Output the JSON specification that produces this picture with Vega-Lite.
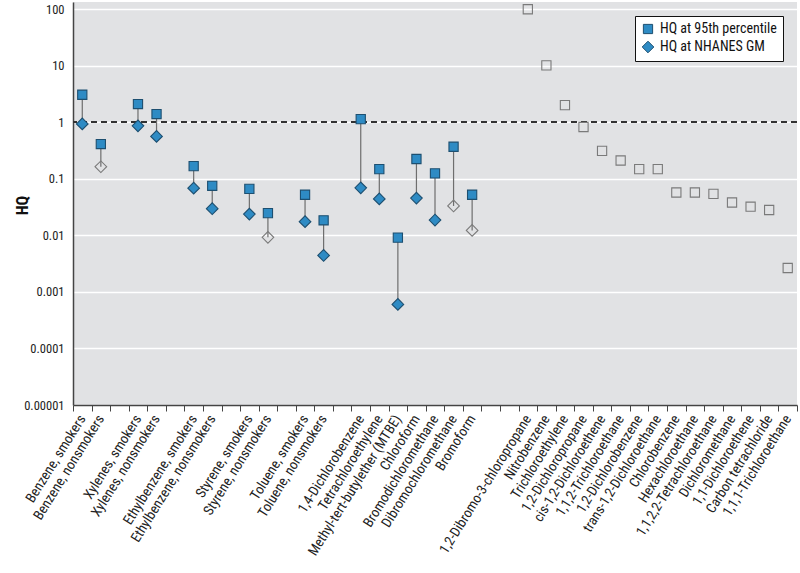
{
  "$schema": "https://vega.github.io/schema/vega-lite/v6.json",
  "autosize": "none",
  "width": 724,
  "height": 403,
  "padding": {"left": 73, "top": 2, "right": 3, "bottom": 168},
  "background": "white",
  "config": {
    "view": {"fill": "#e1e2e4", "stroke": null},
    "font": "Liberation Sans Narrow, Roboto Condensed, Liberation Sans, sans-serif",
    "axis": {"labelFont": "Liberation Sans Narrow, Roboto Condensed, Liberation Sans, sans-serif", "labelColor": "#222", "domainColor": "#444", "tickColor": "#444"},
    "legend": {"labelFont": "Liberation Sans Narrow, Roboto Condensed, Liberation Sans, sans-serif"}
  },
  "data": {"values": [
    {"c": "Benzene, smokers", "s": "HQ at 95th percentile", "v": 3.05, "open": false},
    {"c": "Benzene, smokers", "s": "HQ at NHANES GM", "v": 0.93, "open": false},
    {"c": "Benzene, nonsmokers", "s": "HQ at 95th percentile", "v": 0.41, "open": false},
    {"c": "Benzene, nonsmokers", "s": "HQ at NHANES GM", "v": 0.163, "open": true},
    {"c": "Xylenes, smokers", "s": "HQ at 95th percentile", "v": 2.09, "open": false},
    {"c": "Xylenes, smokers", "s": "HQ at NHANES GM", "v": 0.86, "open": false},
    {"c": "Xylenes, nonsmokers", "s": "HQ at 95th percentile", "v": 1.39, "open": false},
    {"c": "Xylenes, nonsmokers", "s": "HQ at NHANES GM", "v": 0.56, "open": false},
    {"c": "Ethylbenzene, smokers", "s": "HQ at 95th percentile", "v": 0.167, "open": false},
    {"c": "Ethylbenzene, smokers", "s": "HQ at NHANES GM", "v": 0.068, "open": false},
    {"c": "Ethylbenzene, nonsmokers", "s": "HQ at 95th percentile", "v": 0.075, "open": false},
    {"c": "Ethylbenzene, nonsmokers", "s": "HQ at NHANES GM", "v": 0.0295, "open": false},
    {"c": "Styrene, smokers", "s": "HQ at 95th percentile", "v": 0.066, "open": false},
    {"c": "Styrene, smokers", "s": "HQ at NHANES GM", "v": 0.0237, "open": false},
    {"c": "Styrene, nonsmokers", "s": "HQ at 95th percentile", "v": 0.0247, "open": false},
    {"c": "Styrene, nonsmokers", "s": "HQ at NHANES GM", "v": 0.0092, "open": true},
    {"c": "Toluene, smokers", "s": "HQ at 95th percentile", "v": 0.052, "open": false},
    {"c": "Toluene, smokers", "s": "HQ at NHANES GM", "v": 0.0174, "open": false},
    {"c": "Toluene, nonsmokers", "s": "HQ at 95th percentile", "v": 0.0184, "open": false},
    {"c": "Toluene, nonsmokers", "s": "HQ at NHANES GM", "v": 0.0044, "open": false},
    {"c": "1,4-Dichlorobenzene", "s": "HQ at 95th percentile", "v": 1.13, "open": false},
    {"c": "1,4-Dichlorobenzene", "s": "HQ at NHANES GM", "v": 0.069, "open": false},
    {"c": "Tetrachloroethylene", "s": "HQ at 95th percentile", "v": 0.148, "open": false},
    {"c": "Tetrachloroethylene", "s": "HQ at NHANES GM", "v": 0.044, "open": false},
    {"c": "Methyl-tert-butylether (MTBE)", "s": "HQ at 95th percentile", "v": 0.0091, "open": false},
    {"c": "Methyl-tert-butylether (MTBE)", "s": "HQ at NHANES GM", "v": 0.0006, "open": false},
    {"c": "Chloroform", "s": "HQ at 95th percentile", "v": 0.223, "open": false},
    {"c": "Chloroform", "s": "HQ at NHANES GM", "v": 0.0455, "open": false},
    {"c": "Bromodichloromethane", "s": "HQ at 95th percentile", "v": 0.124, "open": false},
    {"c": "Bromodichloromethane", "s": "HQ at NHANES GM", "v": 0.0186, "open": false},
    {"c": "Dibromochloromethane", "s": "HQ at 95th percentile", "v": 0.367, "open": false},
    {"c": "Dibromochloromethane", "s": "HQ at NHANES GM", "v": 0.033, "open": true},
    {"c": "Bromoform", "s": "HQ at 95th percentile", "v": 0.052, "open": false},
    {"c": "Bromoform", "s": "HQ at NHANES GM", "v": 0.0122, "open": true},
    {"c": "1,2-Dibromo-3-chloropropane", "s": "HQ at 95th percentile", "v": 99, "open": true},
    {"c": "Nitrobenzene", "s": "HQ at 95th percentile", "v": 10.1, "open": true},
    {"c": "Trichloroethylene", "s": "HQ at 95th percentile", "v": 2.0, "open": true},
    {"c": "1,2-Dichloropropane", "s": "HQ at 95th percentile", "v": 0.82, "open": true},
    {"c": "cis-1,2-Dichloroethene", "s": "HQ at 95th percentile", "v": 0.31, "open": true},
    {"c": "1,1,2-Trichloroethane", "s": "HQ at 95th percentile", "v": 0.21, "open": true},
    {"c": "1,2-Dichlorobenzene", "s": "HQ at 95th percentile", "v": 0.148, "open": true},
    {"c": "trans-1,2-Dichloroethane", "s": "HQ at 95th percentile", "v": 0.148, "open": true},
    {"c": "Chlorobenzene", "s": "HQ at 95th percentile", "v": 0.057, "open": true},
    {"c": "Hexachloroethane", "s": "HQ at 95th percentile", "v": 0.057, "open": true},
    {"c": "1,1,2,2-Tetrachloroethane", "s": "HQ at 95th percentile", "v": 0.054, "open": true},
    {"c": "Dichloromethane", "s": "HQ at 95th percentile", "v": 0.038, "open": true},
    {"c": "1,1-Dichloroethene", "s": "HQ at 95th percentile", "v": 0.032, "open": true},
    {"c": "Carbon tetrachloride", "s": "HQ at 95th percentile", "v": 0.028, "open": true},
    {"c": "1,1,1-Trichloroethane", "s": "HQ at 95th percentile", "v": 0.00264, "open": true}
  ]},
  "encoding": {
    "x": {
      "field": "c", "type": "nominal", "title": null,
      "scale": {
        "domain": ["Benzene, smokers", "Benzene, nonsmokers", "gap1", "Xylenes, smokers", "Xylenes, nonsmokers", "gap2", "Ethylbenzene, smokers", "Ethylbenzene, nonsmokers", "gap3", "Styrene, smokers", "Styrene, nonsmokers", "gap4", "Toluene, smokers", "Toluene, nonsmokers", "gap5", "1,4-Dichlorobenzene", "Tetrachloroethylene", "Methyl-tert-butylether (MTBE)", "Chloroform", "Bromodichloromethane", "Dibromochloromethane", "Bromoform", "gap6", "gap7", "1,2-Dibromo-3-chloropropane", "Nitrobenzene", "Trichloroethylene", "1,2-Dichloropropane", "cis-1,2-Dichloroethene", "1,1,2-Trichloroethane", "1,2-Dichlorobenzene", "trans-1,2-Dichloroethane", "Chlorobenzene", "Hexachloroethane", "1,1,2,2-Tetrachloroethane", "Dichloromethane", "1,1-Dichloroethene", "Carbon tetrachloride", "1,1,1-Trichloroethane"],
        "paddingInner": 0, "paddingOuter": 0
      },
      "axis": {
        "labelAngle": -58, "labelAlign": "right", "labelBaseline": "middle",
        "labelFontSize": 14, "labelPadding": 5, "labelOverlap": false, "labelLimit": 300,
        "labelExpr": "indexof(datum.label, 'gap') == 0 ? '' : datum.label",
        "tickBand": "extent", "tickSize": 6, "domainWidth": 1.5, "grid": false
      }
    },
    "y": {
      "type": "quantitative",
      "scale": {"type": "log", "domain": [0.00001, 133], "nice": false},
      "axis": {
        "title": "HQ", "titleFontSize": 16, "titleFontWeight": "bold", "titleColor": "#111",
        "titleX": -51, "titleY": 203, "titleAngle": 270, "titleAlign": "center", "titleBaseline": "middle",
        "titleFont": "Liberation Sans Narrow, Roboto Condensed, Liberation Sans, sans-serif",
        "values": [0.00001, 0.0001, 0.001, 0.01, 0.1, 1, 10, 100],
        "format": ".5~f", "labelFontSize": 12.5, "labelPadding": 9, "ticks": false,
        "grid": true, "gridColor": "#ffffff", "gridWidth": 1.5, "domainWidth": 1.5
      }
    }
  },
  "layer": [
    {
      "mark": {"type": "rule", "stroke": "#333", "strokeDash": [6, 4], "strokeWidth": 1.3},
      "encoding": {"x": null, "y": {"datum": 1, "type": "quantitative"}}
    },
    {
      "mark": {"type": "rule", "stroke": "#6e6e6e", "strokeWidth": 1.2},
      "encoding": {
        "y": {"aggregate": "max", "field": "v", "type": "quantitative"},
        "y2": {"aggregate": "min", "field": "v"}
      }
    },
    {
      "mark": {"type": "point", "filled": true, "strokeWidth": 1.1, "opacity": 1},
      "encoding": {
        "y": {"field": "v", "type": "quantitative"},
        "shape": {"field": "s", "type": "nominal", "title": null,
          "scale": {"domain": ["HQ at 95th percentile", "HQ at NHANES GM"], "range": ["square", "diamond"]},
          "legend": {"orient": "top-right", "offset": 14, "fillColor": "white", "strokeColor": "#111", "padding": 6,
            "labelFontSize": 14, "labelColor": "#111", "symbolStrokeColor": "#1d4f70",
            "symbolStrokeWidth": 1, "rowPadding": 3, "labelOffset": 5}},
        "size": {"field": "s", "type": "nominal", "title": null,
          "scale": {"domain": ["HQ at 95th percentile", "HQ at NHANES GM"], "range": [85, 135]},
          "legend": {"orient": "top-right", "offset": 14, "fillColor": "white", "strokeColor": "#111", "padding": 6,
            "labelFontSize": 14, "labelColor": "#111", "symbolStrokeColor": "#1d4f70",
            "symbolStrokeWidth": 1, "rowPadding": 3, "labelOffset": 5}},
        "fill": {
          "condition": {"test": "datum.open", "value": "transparent"},
          "field": "s", "type": "nominal", "title": null,
          "scale": {"domain": ["HQ at 95th percentile", "HQ at NHANES GM"], "range": ["#2e8bc4", "#2e8bc4"]},
          "legend": {"orient": "top-right", "offset": 14, "fillColor": "white", "strokeColor": "#111", "padding": 6,
            "labelFontSize": 14, "labelColor": "#111", "symbolStrokeColor": "#1d4f70",
            "symbolStrokeWidth": 1, "rowPadding": 3, "labelOffset": 5}
        },
        "stroke": {"condition": {"test": "datum.open", "value": "#7a7a7a"}, "value": "#1d4f70"}
      }
    }
  ]
}
